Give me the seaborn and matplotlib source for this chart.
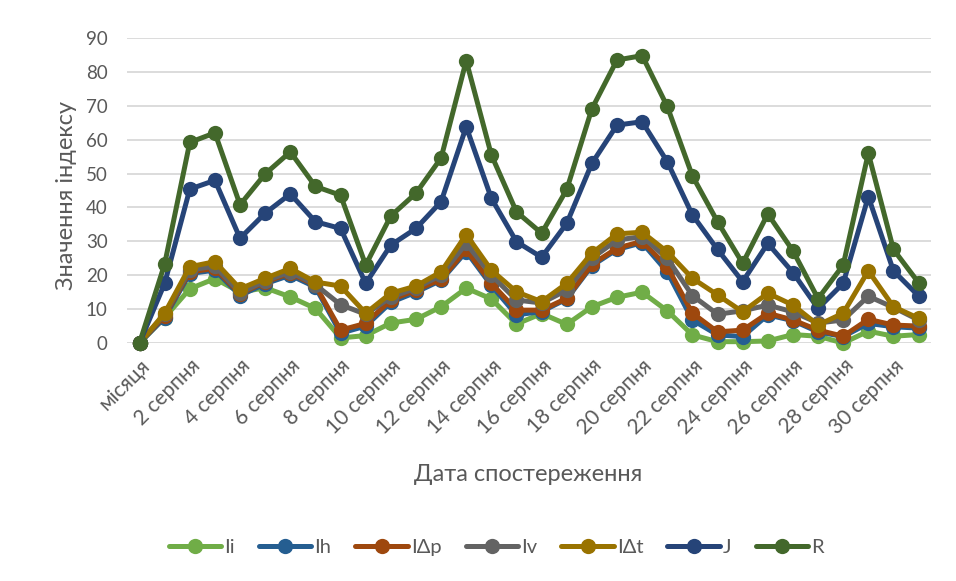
import numpy as np
import pandas as pd
import matplotlib
matplotlib.use("Agg")
import matplotlib.pyplot as plt
import seaborn as sns

dates = ["місяця"] + [f"{d} серпня" for d in range(1, 32)]

Ii = [0, 7.5, 16.0, 19.0, 15.0, 16.3, 13.6, 10.2, 1.5, 2.2, 5.9, 7.0, 10.7, 16.2, 13.0, 5.6,
      8.7, 5.5, 10.7, 13.5, 15.0, 9.5, 2.4, 0.4, 0.4, 0.6, 2.5, 2.0, 0.0, 3.5, 2.0, 2.5]
Ih = [0, 7.5, 20.5, 21.5, 14.0, 17.5, 20.0, 16.5, 2.9, 5.0, 12.0, 15.0, 18.5, 27.0, 17.0, 8.3,
      9.3, 13.0, 22.8, 27.6, 29.6, 21.0, 6.8, 2.4, 1.9, 8.3, 6.6, 3.3, 1.9, 5.8, 4.8, 4.4]
Idp = [0, 8.0, 21.0, 22.0, 14.5, 18.0, 20.6, 17.0, 3.8, 5.8, 12.7, 15.6, 18.8, 27.6, 17.6, 9.7,
       9.7, 13.2, 23.2, 28.0, 30.0, 22.5, 8.8, 3.3, 3.8, 8.8, 6.8, 3.8, 2.0, 7.0, 5.3, 5.0]
Iv = [0, 8.5, 21.5, 22.7, 14.8, 18.3, 21.0, 17.2, 11.3, 8.5, 13.5, 16.2, 20.0, 29.4, 20.0, 12.7,
      11.8, 15.6, 25.0, 30.4, 31.4, 25.0, 14.0, 8.5, 9.5, 11.2, 9.2, 5.9, 6.8, 13.8, 10.5, 6.8]
Idt = [0, 8.8, 22.5, 24.0, 16.0, 19.1, 22.0, 18.0, 16.8, 8.8, 14.7, 16.8, 21.0, 32.0, 21.5, 15.1,
       12.2, 17.6, 26.5, 32.2, 32.7, 26.9, 19.1, 14.2, 9.2, 14.7, 11.2, 5.3, 8.8, 21.3, 10.7, 7.3]
J = [0, 17.6, 45.4, 48.0, 30.9, 38.3, 44.0, 35.8, 33.8, 17.6, 28.9, 33.8, 41.7, 63.8, 42.7, 29.9,
     25.3, 35.3, 53.0, 64.3, 65.3, 53.5, 37.8, 27.6, 18.1, 29.4, 20.8, 10.2, 17.6, 43.2, 21.3, 13.9]
R = [0, 23.3, 59.2, 62.0, 40.8, 49.9, 56.4, 46.2, 43.6, 23.0, 37.5, 44.2, 54.6, 83.3, 55.5, 38.7,
     32.4, 45.3, 69.1, 83.5, 84.8, 69.8, 49.3, 35.8, 23.5, 38.1, 27.2, 13.1, 23.0, 56.0, 27.6, 17.8]

series_names = ["Ii", "Ih", "IΔp", "Iv", "IΔt", "J", "R"]
series_vals = [Ii, Ih, Idp, Iv, Idt, J, R]
colors = ["#70AD47", "#255E91", "#9E480E", "#636363", "#997300", "#264478", "#43682B"]

x_pos = np.arange(len(dates))
df = pd.concat([pd.DataFrame({"x": x_pos, "value": v, "series": n})
                for n, v in zip(series_names, series_vals)], ignore_index=True)

sns.set_theme(style="white")
plt.rcParams["font.family"] = ["Lato", "Open Sans", "DejaVu Sans"]
txt = "#595959"

fig = plt.figure(figsize=(9.56, 5.81), dpi=100)
ax = fig.add_axes([0.1328, 0.4096, 0.8412, 0.525])

sns.lineplot(data=df, x="x", y="value", hue="series", hue_order=series_names,
             palette=colors, marker="o", markersize=11, linewidth=3.6,
             markeredgewidth=0, sort=False, ax=ax, clip_on=False)

ax.set_xlim(-0.5, len(dates) - 0.5)
ax.set_ylim(0, 90)
ax.set_yticks(np.arange(0, 91, 10))
ax.yaxis.grid(True, color="#D9D9D9", linewidth=1.3)
ax.xaxis.grid(False)
for s in ax.spines.values():
    s.set_visible(False)
ax.set_axisbelow(True)

ax.set_xticks(x_pos[::2])
ax.set_xticklabels(dates[::2], rotation=45, ha="right", rotation_mode="anchor")
ax.tick_params(axis="both", length=0, colors=txt)
ax.tick_params(axis="x", pad=9, labelsize=15)
ax.tick_params(axis="y", pad=14, labelsize=13.5)

ax.set_xlabel("Дата спостереження", fontsize=17, color=txt)
ax.set_ylabel("Значення індексу", fontsize=17, color=txt)
ax.xaxis.set_label_coords(0.499, -0.395)
ax.yaxis.set_label_coords(-0.062, 0.485)

handles, labels = ax.get_legend_handles_labels()
ax.legend_.remove()
fig.legend(handles, labels, loc="center", bbox_to_anchor=(0.519, 0.057), ncol=7,
           frameon=False, fontsize=14.5, handlelength=2.6, columnspacing=1.2,
           handletextpad=0.15, labelcolor=txt)

fig.savefig("out.png", dpi=100)
